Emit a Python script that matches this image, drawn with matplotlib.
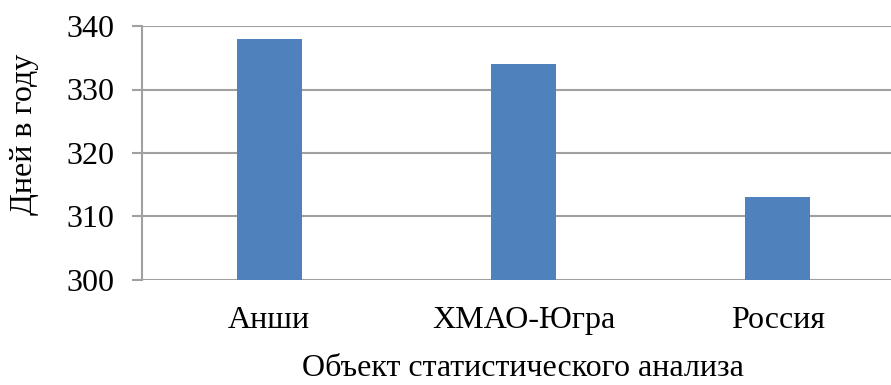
import matplotlib.pyplot as plt

# days per year by region
regions = ["Анши", "ХМАО-Югра", "Россия"]
days = [338, 334, 313]
yticks = [300, 310, 320, 330, 340]

plt.rcParams["font.family"] = ["Liberation Serif", "DejaVu Serif"]

W, H = 891, 385
fig = plt.figure(figsize=(W / 100, H / 100), dpi=100)
# plot area runs slightly past the right edge of the figure
ax = fig.add_axes([142 / W, 1 - 280 / H, (905 - 142) / W, (280 - 26) / H])

grid_color = "#a0a0a0"
ax.bar(range(len(regions)), days, width=0.256, bottom=0, color="#4f81bd", zorder=3)
ax.set_xlim(-0.5, len(regions) - 0.5)
ax.set_ylim(300, 340)
ax.set_yticks(yticks)
ax.grid(axis="y", color=grid_color, linewidth=1.5, zorder=0)

for side in ["top", "right", "bottom"]:
    ax.spines[side].set_visible(False)
ax.spines["left"].set_color(grid_color)
ax.spines["left"].set_linewidth(1.5)

ax.set_xticks(range(len(regions)))
ax.set_xticklabels(regions)
ax.tick_params(axis="x", length=0, pad=19, labelsize=23)
ax.tick_params(axis="y", length=7, width=1.5, color=grid_color, pad=13, labelsize=23)

fig.text(523 / W, 1 - 369 / H, "Объект статистического анализа",
         ha="center", va="center", fontsize=23)
fig.text(25 / W, 1 - 134 / H, "Дней в году", rotation=90,
         ha="center", va="center", fontsize=23)

fig.savefig("out.png", dpi=100)
